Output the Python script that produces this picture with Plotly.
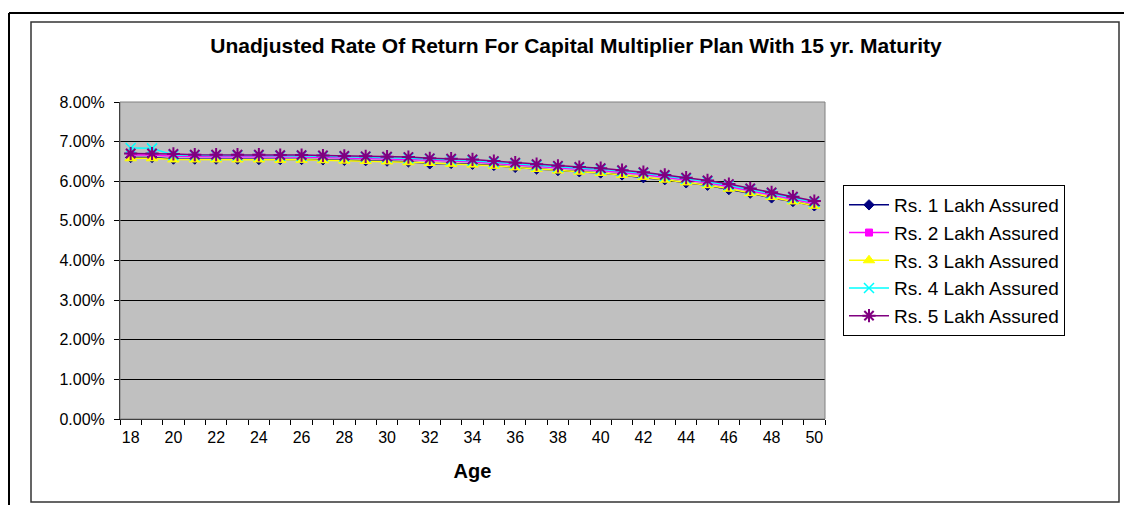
import plotly.graph_objects as go

ages = list(range(18, 51))

s1_navy = [6.60, 6.60, 6.56, 6.56, 6.56, 6.56, 6.55, 6.55, 6.55, 6.54, 6.53, 6.52, 6.51, 6.49, 6.44, 6.45,
           6.43, 6.40, 6.35, 6.31, 6.27, 6.24, 6.21, 6.16, 6.09, 6.04, 5.96, 5.90, 5.79, 5.70, 5.58, 5.49, 5.38]
s2_magenta = [6.66, 6.66, 6.63, 6.62, 6.62, 6.62, 6.62, 6.61, 6.61, 6.60, 6.59, 6.58, 6.57, 6.55, 6.53, 6.51,
              6.49, 6.45, 6.41, 6.37, 6.33, 6.30, 6.27, 6.22, 6.17, 6.10, 6.03, 5.96, 5.87, 5.76, 5.66, 5.55, 5.44]
s3_yellow = [6.58, 6.58, 6.55, 6.55, 6.55, 6.55, 6.55, 6.54, 6.54, 6.53, 6.52, 6.51, 6.50, 6.48, 6.46, 6.44,
             6.42, 6.39, 6.35, 6.31, 6.27, 6.24, 6.21, 6.16, 6.11, 6.04, 5.97, 5.90, 5.81, 5.70, 5.60, 5.49, 5.38]
s4_cyan = [6.84, 6.83, 6.66, 6.65, 6.65, 6.65, 6.65, 6.64, 6.64, 6.63, 6.62, 6.61, 6.60, 6.58, 6.56, 6.54,
           6.52, 6.48, 6.44, 6.40, 6.36, 6.33, 6.30, 6.25, 6.20, 6.13, 6.06, 5.99, 5.90, 5.79, 5.69, 5.58, 5.47]
s5_purple = [6.70, 6.70, 6.69, 6.67, 6.67, 6.67, 6.67, 6.66, 6.66, 6.65, 6.64, 6.63, 6.62, 6.61, 6.58, 6.57,
             6.55, 6.51, 6.47, 6.43, 6.39, 6.36, 6.33, 6.28, 6.23, 6.16, 6.09, 6.02, 5.93, 5.82, 5.72, 5.61, 5.50]

series_names = ["Rs. 1 Lakh Assured", "Rs. 2 Lakh Assured", "Rs. 3 Lakh Assured",
                "Rs. 4 Lakh Assured", "Rs. 5 Lakh Assured"]
series_values = [s1_navy, s2_magenta, s3_yellow, s4_cyan, s5_purple]

title_text = "Unadjusted Rate Of Return For Capital Multiplier Plan With 15 yr. Maturity"
x_title = "Age"
y_ticks = [0, 1, 2, 3, 4, 5, 6, 7, 8]
x_ticks = list(range(18, 51, 2))

styles = [
    dict(color="#000080", symbol="diamond", size=8, mline=dict(color="#000080", width=1)),
    dict(color="#FF00FF", symbol="square", size=7, mline=dict(color="#FF00FF", width=1)),
    dict(color="#FFFF00", symbol="triangle-up", size=10, mline=dict(color="#FFFF00", width=1)),
    dict(color="#00FFFF", symbol="x-thin", size=10, mline=dict(color="#00FFFF", width=1.5)),
    dict(color="#800080", symbol="asterisk", size=11, mline=dict(color="#800080", width=2)),
]

FONT = "Liberation Sans, Arial, sans-serif"

fig = go.Figure()
for name, vals, st in zip(series_names, series_values, styles):
    fig.add_trace(go.Scatter(
        x=ages, y=vals, name=name, mode="lines+markers",
        line=dict(color=st["color"], width=1.5),
        marker=dict(symbol=st["symbol"], size=st["size"], color=st["color"], line=st["mline"]),
    ))

# page body has an 8px default margin; work in page coordinates and shift
OFF = 8
W, H = 1132 - OFF, 505 - OFF
L, R, T, B = 120 - OFF, 825 - OFF, 102 - OFF, 419 - OFF

def px(x):
    return (x - OFF - L) / (R - L)

def py(y):
    return (B - (y - OFF)) / (B - T)

shapes = [
    # outer frame (top and left)
    dict(type="line", xref="paper", yref="paper", x0=px(9), x1=px(1140), y0=py(13), y1=py(13),
         line=dict(color="black", width=2)),
    dict(type="line", xref="paper", yref="paper", x0=px(9), x1=px(9), y0=py(13), y1=py(510),
         line=dict(color="black", width=2)),
    # inner frame
    dict(type="rect", xref="paper", yref="paper", x0=px(31), x1=px(1119), y0=py(22), y1=py(502),
         line=dict(color="#333333", width=1.5)),
    # plot area border
    dict(type="rect", xref="paper", yref="paper", x0=0, x1=1, y0=0, y1=1,
         line=dict(color="#808080", width=1), layer="above"),
]

fig.update_layout(
    width=W, height=H,
    margin=dict(l=L, r=W - R, t=T, b=H - B),
    paper_bgcolor="white",
    plot_bgcolor="#C0C0C0",
    font=dict(family=FONT, color="black"),
    title=dict(text="<b>" + title_text + "</b>", x=(576 - OFF) / W, xanchor="center",
               y=1 - (46 - OFF) / H, yanchor="middle", font=dict(size=21, family=FONT)),
    showlegend=True,
    legend=dict(x=px(843), xanchor="left", y=py(185), yanchor="top",
                bgcolor="white", bordercolor="black", borderwidth=1,
                font=dict(size=19, family=FONT), tracegroupgap=0, itemwidth=40),
    shapes=shapes,
)

fig.update_xaxes(
    range=[17.5, 50.5], tickmode="array", tickvals=x_ticks, ticktext=[str(v) for v in x_ticks],
    ticks="", showgrid=False, zeroline=False,
    showline=True, linecolor="black", linewidth=1,
    tickfont=dict(size=16, family=FONT),
    ticklabelstandoff=4,
    minor=dict(ticks="outside", tick0=17.5, dtick=1, ticklen=5, tickcolor="black", showgrid=False),
    title=dict(text="<b>" + x_title + "</b>", font=dict(size=20, family=FONT), standoff=18),
)

fig.update_yaxes(
    range=[0, 8], tickmode="array", tickvals=y_ticks,
    ticktext=[f"{v:.2f}%" for v in y_ticks],
    ticks="outside", ticklen=5, tickcolor="black",
    showgrid=True, gridcolor="black", gridwidth=1, zeroline=False,
    showline=True, linecolor="black", linewidth=1,
    tickfont=dict(size=16, family=FONT),
    ticklabelstandoff=6,
)

fig.write_html("out.html")
